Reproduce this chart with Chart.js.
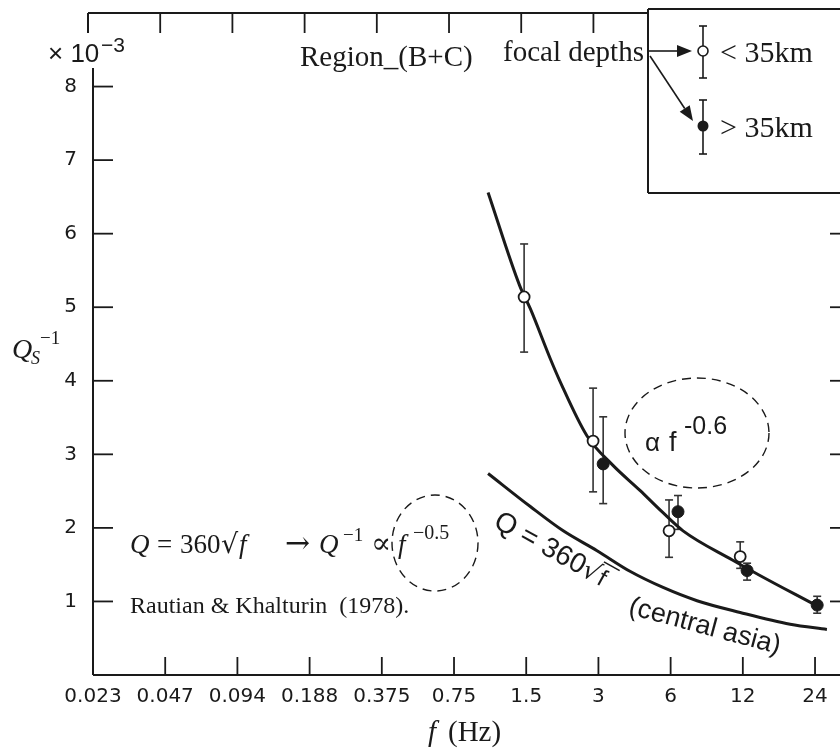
<!DOCTYPE html>
<html lang="en">
<head>
<meta charset="UTF-8" />
<title>Qs-1 vs frequency, Region (B+C)</title>
<script src="https://cdn.jsdelivr.net/npm/chart.js"></script>
<style>
  html, body { margin: 0; padding: 0; background: #fff; }
  canvas { display: block; }
</style>
</head>
<body>
<canvas id="qChart" width="840" height="752"></canvas>
<script>
  // axis ticks (octave steps)
  const freqTicks  = [0.0234375, 0.046875, 0.09375, 0.1875, 0.375, 0.75, 1.5, 3, 6, 12, 24];
  const freqLabels = ['0.023', '0.047', '0.094', '0.188', '0.375', '0.75', '1.5', '3', '6', '12', '24'];
  const qTicks     = [1, 2, 3, 4, 5, 6, 7, 8];

  // focal depth < 35 km (open circles), Qs^-1 in 1e-3
  const shallowF  = [1.47, 2.85, 5.91, 11.7];
  const shallowQ  = [5.14, 3.18, 1.96, 1.61];
  const shallowLo = [4.39, 2.49, 1.60, 1.45];
  const shallowHi = [5.86, 3.90, 2.38, 1.81];

  // focal depth > 35 km (filled circles)
  const deepF  = [3.14, 6.44, 12.5, 24.5];
  const deepQ  = [2.87, 2.22, 1.42, 0.95];
  const deepLo = [2.33, 1.98, 1.29, 0.84];
  const deepHi = [3.51, 2.44, 1.52, 1.07];

  // fitted curve (~ f^-0.6)
  const fitF = [1.04, 1.41, 1.56, 1.89, 2.07, 2.69, 3.45, 4.47, 5.52, 6.76, 10.9, 14.2, 23.5];
  const fitQ = [6.56, 5.29, 4.98, 4.30, 4.00, 3.25, 2.85, 2.51, 2.22, 1.96, 1.56, 1.35, 0.97];

  // Q = 360 sqrt(f), central asia (Rautian & Khalturin 1978)
  const asiaF = [1.04, 1.56, 2.14, 2.96, 4.06, 5.58, 7.73, 11.7, 18.9, 26.9];
  const asiaQ = [2.74, 2.29, 1.96, 1.69, 1.41, 1.19, 1.01, 0.85, 0.69, 0.62];

  const ink = '#1a1a1a';
  const serif = '"Liberation Serif", "DejaVu Serif", serif';
  const sans = '"Liberation Sans", Arial, sans-serif';

  const pts = (xs, ys) => xs.map((v, i) => ({ x: v, y: ys[i] }));

  function line(ctx, x1, y1, x2, y2, w) {
    ctx.lineWidth = w || 2;
    ctx.beginPath(); ctx.moveTo(x1, y1); ctx.lineTo(x2, y2); ctx.stroke();
  }
  function put(ctx, s, x, y, font) {
    ctx.font = font; ctx.fillText(s, x, y);
    return x + ctx.measureText(s).width;
  }
  function arrow(ctx, x1, y1, x2, y2) {
    const a = Math.atan2(y2 - y1, x2 - x1), L = 15, W = 6;
    line(ctx, x1, y1, x2 - L * Math.cos(a), y2 - L * Math.sin(a), 1.6);
    ctx.beginPath();
    ctx.moveTo(x2, y2);
    ctx.lineTo(x2 - L * Math.cos(a) - W * Math.sin(a), y2 - L * Math.sin(a) + W * Math.cos(a));
    ctx.lineTo(x2 - L * Math.cos(a) + W * Math.sin(a), y2 - L * Math.sin(a) - W * Math.cos(a));
    ctx.closePath(); ctx.fill();
  }
  function errBar(ctx, px, pyLo, pyHi) {
    line(ctx, px, pyLo, px, pyHi, 1.6);
    line(ctx, px - 4, pyLo, px + 4, pyLo, 1.6);
    line(ctx, px - 4, pyHi, px + 4, pyHi, 1.6);
  }
  function ellipse(ctx, cx, cy, rx, ry) {
    ctx.save();
    ctx.setLineDash([9, 6]); ctx.lineWidth = 1.4;
    ctx.beginPath(); ctx.ellipse(cx, cy, rx, ry, 0, 0, Math.PI * 2); ctx.stroke();
    ctx.restore();
  }

  const decor = {
    id: 'decor',
    beforeDatasetsDraw(chart) {
      const { ctx, scales: { x, y } } = chart;
      ctx.save(); ctx.strokeStyle = '#333';
      shallowF.forEach((f, i) => errBar(ctx, x.getPixelForValue(f), y.getPixelForValue(shallowLo[i]), y.getPixelForValue(shallowHi[i])));
      deepF.forEach((f, i) => errBar(ctx, x.getPixelForValue(f), y.getPixelForValue(deepLo[i]), y.getPixelForValue(deepHi[i])));
      ctx.restore();
    },
    afterDraw(chart) {
      const { ctx, chartArea: a, scales: { x, y } } = chart;
      const boxL = 648, boxT = 9, boxB = 193;
      ctx.save();
      ctx.strokeStyle = ink; ctx.fillStyle = ink;

      // frame
      line(ctx, a.left - 5, a.top, boxL, a.top);
      line(ctx, a.left - 5, a.top, a.left - 5, a.top + 20);
      line(ctx, a.left, 68, a.left, a.bottom);
      line(ctx, a.left, a.bottom, a.right, a.bottom);

      // inward ticks
      freqTicks.forEach(v => {
        const px = x.getPixelForValue(v);
        line(ctx, px, a.bottom, px, a.bottom - 18, 1.8);
        if (px < boxL) line(ctx, px - 5, a.top, px - 5, a.top + 20, 1.8);
      });
      qTicks.forEach(v => {
        const py = y.getPixelForValue(v);
        line(ctx, a.left, py, a.left + 20, py, 1.8);
        if (py > boxB) line(ctx, a.right - 10, py, a.right, py, 1.8);
      });

      // legend box
      line(ctx, boxL, boxT, a.right, boxT);
      line(ctx, boxL, boxT, boxL, boxB);
      line(ctx, boxL, boxB, a.right, boxB);
      errBar(ctx, 703, 26, 78);
      errBar(ctx, 703, 100, 154);
      ctx.beginPath(); ctx.arc(703, 51, 5, 0, Math.PI * 2);
      ctx.fillStyle = '#fff'; ctx.fill(); ctx.lineWidth = 1.6; ctx.stroke();
      ctx.fillStyle = ink;
      ctx.beginPath(); ctx.arc(703, 126, 5.5, 0, Math.PI * 2); ctx.fill();
      arrow(ctx, 648, 51, 692, 51);
      arrow(ctx, 650, 56, 693, 121);

      ctx.textBaseline = 'alphabetic'; ctx.textAlign = 'left';
      ctx.font = '29px ' + serif;
      ctx.fillText('focal depths', 503, 61);
      ctx.fillText('Region_(B+C)', 300, 66);
      ctx.font = '30px ' + serif;
      ctx.fillText('< 35km', 720, 62);
      ctx.fillText('> 35km', 720, 137);

      // exponent marker
      put(ctx, '× 10', 48, 62, '26px ' + sans);
      put(ctx, '−3', 101, 52, '21px ' + sans);

      // y axis title
      put(ctx, 'Q', 12, 358, 'italic 28px ' + serif);
      put(ctx, 'S', 31, 364, 'italic 18px ' + serif);
      put(ctx, '−1', 40, 344, '19px ' + serif);

      // x axis title
      put(ctx, 'f', 428, 741, 'italic 29px ' + serif);
      put(ctx, '(Hz)', 448, 741, '29px ' + serif);

      // formula + reference
      const fi = 'italic 27px ' + serif, fr = '27px ' + serif;
      put(ctx, 'Q', 130, 553, fi);
      put(ctx, '=', 157, 553, fr);
      put(ctx, '360', 180, 553, fr);
      put(ctx, '√', 221, 553, '27px "DejaVu Serif"');
      put(ctx, 'f', 239, 553, fi);
      put(ctx, '→', 285, 553, '30px "DejaVu Serif"');
      put(ctx, 'Q', 319, 553, fi);
      put(ctx, '−1', 343, 541, '19px ' + serif);
      put(ctx, '∝', 371, 553, '30px "DejaVu Serif"');
      put(ctx, 'f', 398, 553, fi);
      put(ctx, '−0.5', 413, 539, '20px ' + serif);
      ctx.font = '24px ' + serif;
      ctx.fillText('Rautian & Khalturin  (1978).', 130, 613);
      ellipse(ctx, 435, 543, 43, 48);

      // alpha f^-0.6 label
      ellipse(ctx, 697, 433, 72, 55);
      put(ctx, 'α', 645, 451, '26px ' + sans);
      put(ctx, 'f', 669, 451, '27px ' + sans);
      put(ctx, '-0.6', 684, 434, '25px ' + sans);

      // label on the central asia curve
      ctx.save();
      ctx.translate(499, 514); ctx.rotate(29 * Math.PI / 180);
      let cx = put(ctx, 'Q = 360', 0, 14, '28px ' + sans);
      cx = put(ctx, '√', cx, 14, '26px "DejaVu Sans"');
      put(ctx, 'f', cx + 1, 14, '24px ' + sans);
      line(ctx, cx - 2, -9, cx + 16, -9, 1.6);
      ctx.restore();

      ctx.save();
      ctx.translate(630, 604); ctx.rotate(15 * Math.PI / 180);
      put(ctx, '(central asia)', 0, 10, '27px ' + sans);
      ctx.restore();

      ctx.restore();
    }
  };

  new Chart(document.getElementById('qChart'), {
    type: 'scatter',
    data: {
      datasets: [
        { label: '< 35km', data: pts(shallowF, shallowQ), pointRadius: 5.5,
          pointBackgroundColor: '#fff', pointBorderColor: ink, pointBorderWidth: 1.8 },
        { label: '> 35km', data: pts(deepF, deepQ), pointRadius: 6,
          pointBackgroundColor: ink, pointBorderColor: ink },
        { label: 'fit', data: pts(fitF, fitQ), showLine: true, cubicInterpolationMode: 'monotone',
          borderColor: ink, borderWidth: 3, pointRadius: 0 },
        { label: 'Q = 360 sqrt(f)', data: pts(asiaF, asiaQ), showLine: true, cubicInterpolationMode: 'monotone',
          borderColor: ink, borderWidth: 3, pointRadius: 0 }
      ]
    },
    options: {
      responsive: false,
      animation: false,
      devicePixelRatio: 1,
      layout: { autoPadding: false, padding: { top: 13, left: 0, right: 0, bottom: 0 } },
      plugins: { legend: { display: false }, tooltip: { enabled: false } },
      scales: {
        x: {
          type: 'logarithmic', min: 0.0234375, max: 30.5,
          grid: { display: false, drawTicks: false }, border: { display: false },
          afterBuildTicks: s => { s.ticks = freqTicks.map(v => ({ value: v })); },
          afterFit: s => { s.height = 77; s.paddingLeft = 0; s.paddingRight = 0; },
          ticks: {
            autoSkip: false, maxRotation: 0, minRotation: 0, padding: 10,
            callback: (v, i) => freqLabels[i],
            font: { family: 'DejaVu Sans', size: 20 }, color: ink
          }
        },
        y: {
          min: 0, max: 9,
          grid: { display: false, drawTicks: false }, border: { display: false },
          afterBuildTicks: s => { s.ticks = qTicks.map(v => ({ value: v })); },
          afterFit: s => { s.width = 93; s.paddingTop = 0; s.paddingBottom = 0; },
          ticks: {
            padding: 16, callback: v => String(v),
            font: { family: 'DejaVu Sans', size: 20 }, color: ink
          }
        }
      }
    },
    plugins: [decor]
  });
</script>
</body>
</html>
